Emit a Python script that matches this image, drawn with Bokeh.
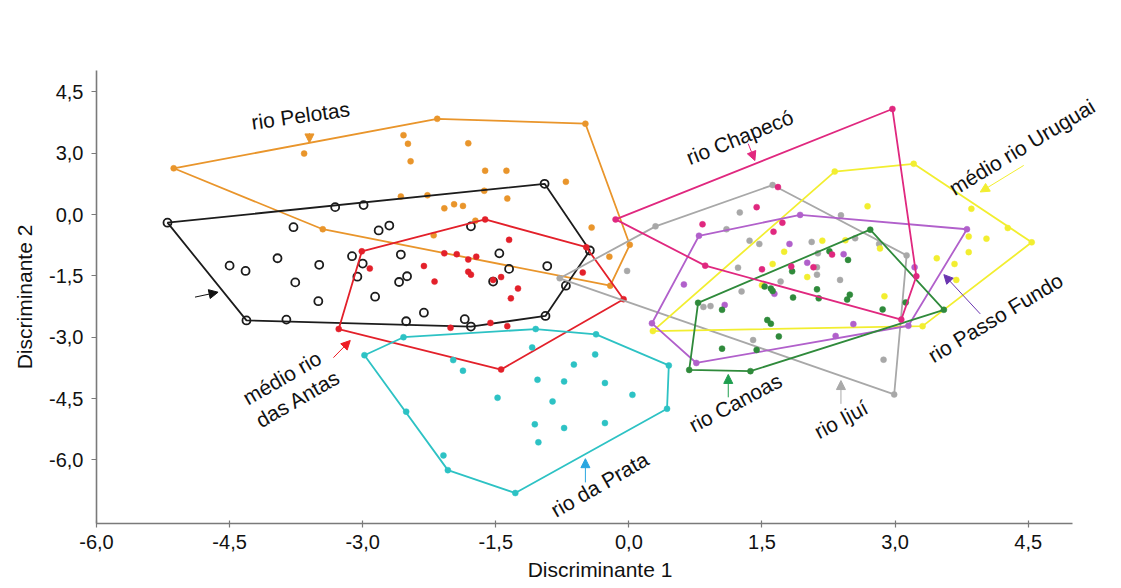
from bokeh.plotting import figure
from bokeh.models import Range1d, FixedTicker, Arrow, NormalHead, Label
from bokeh.embed import file_html
from bokeh.resources import INLINE
import math

# ---------------- data (Discriminante 1 = x, Discriminante 2 = y) ----------------
x_ticks = [-6.0, -4.5, -3.0, -1.5, 0.0, 1.5, 3.0, 4.5]
x_tick_labels = ["-6,0", "-4,5", "-3,0", "-1,5", "0,0", "1,5", "3,0", "4,5"]
y_ticks = [3.0, 1.5, 0.0, -1.5, -3.0, -4.5, -6.0]
y_tick_labels = ["4,5", "3,0", "0,0", "-1,5", "-3,0", "-4,5", "-6,0"]

# rio Pelotas (orange)
pelotas_hull_x = [-5.13, -2.16, -0.49, 0.01, -0.21, -3.45]
pelotas_hull_y = [1.13, 2.34, 2.22, -0.74, -1.74, -0.36]
pelotas_x = [-3.66, -2.54, -2.49, -2.46, -1.81, -2.57, -2.27, -2.08, -1.97, -1.87,
             -2.20, -1.73, -1.62, -1.38, -0.71, -1.63, -1.37, -0.42, -0.22]
pelotas_y = [1.49, 1.94, 1.73, 1.30, 1.74, 0.44, 0.47, 0.15, 0.25, 0.21,
             -0.51, -0.15, 1.07, 1.07, 0.80, 0.58, 0.39, -0.32, -1.03]

# unlabelled group (black open circles)
black_hull_x = [-5.20, -0.95, -0.44, -0.71, -0.94, -1.78, -4.31]
black_hull_y = [-0.20, 0.75, -0.88, -1.74, -2.48, -2.74, -2.59]
black_x = [-3.31, -2.99, -3.78, -2.82, -2.70, -1.78, -4.50, -4.32, -3.96, -3.49,
           -3.76, -3.50, -3.12, -3.00, -3.06, -2.57, -2.59, -2.50, -2.86, -2.31,
           -3.86, -2.51, -1.85, -1.46, -1.35, -0.92, -1.53]
black_y = [0.18, 0.23, -0.31, -0.39, -0.27, -0.29, -1.25, -1.38, -1.07, -1.23,
           -1.66, -2.12, -1.02, -1.20, -1.52, -0.98, -1.65, -1.51, -2.01, -2.40,
           -2.57, -2.61, -2.56, -0.95, -1.33, -1.26, -1.64]

# médio rio das Antas (red)
antas_hull_x = [-3.01, -1.62, -0.48, -0.06, -1.44, -3.27]
antas_hull_y = [-0.90, -0.12, -0.80, -2.07, -3.79, -2.80]
antas_x = [-2.92, -2.31, -2.19, -2.08, -1.94, -1.81, -1.72, -1.81, -1.78, -2.01,
           -1.35, -1.53, -1.44, -1.25, -1.33, -0.52, -1.56, -1.37]
antas_y = [-1.32, -1.26, -1.64, -0.95, -0.97, -1.10, -1.03, -1.40, -1.47, -2.77,
           -0.62, -1.60, -1.53, -1.81, -2.05, -1.42, -2.65, -2.73]

# rio da Prata (cyan)
prata_hull_x = [-2.98, -2.54, -1.05, -0.37, 0.45, 0.43, -1.28, -2.04]
prata_hull_y = [-3.44, -3.00, -2.80, -2.93, -3.69, -4.75, -6.81, -6.25]
prata_x = [-2.51, -2.09, -1.98, -1.87, -1.09, -0.38, -0.62, -1.03, -0.73, -0.27,
           -1.48, -0.86, 0.04, -1.06, -0.73, -0.27, -1.02]
prata_y = [-4.82, -5.89, -3.56, -3.82, -3.25, -3.42, -3.67, -4.04, -4.08, -4.12,
           -4.48, -4.57, -4.41, -5.13, -5.22, -5.10, -5.57]

# rio Chapecó (magenta)
chapeco_hull_x = [-0.15, 2.97, 3.24, 3.07, 0.86]
chapeco_hull_y = [-0.12, 2.58, -1.51, -2.57, -1.25]
chapeco_x = [1.68, 1.44, 0.83, 1.73, 1.63, 1.50, 1.83, 2.08, 2.29]
chapeco_y = [0.67, 0.18, -0.24, -0.20, -0.42, -1.34, -1.27, -1.29, -0.98]

# rio Ijuí (gray)
ijui_hull_x = [-0.78, 0.30, 1.62, 3.13, 2.99]
ijui_hull_y = [-1.56, -0.29, 0.72, -1.00, -4.40]
ijui_x = [-0.02, 2.39, 1.25, 1.10, 1.36, 1.47, 2.06, 2.55, 2.82, 2.13,
          2.12, 2.12, 1.23, 1.71, 2.38, 1.27, 0.84, 0.92, 1.40, 2.87]
ijui_y = [-1.38, -0.02, 0.05, -0.36, -0.64, -0.72, -0.67, -0.58, -0.72, -0.95,
          -1.29, -1.47, -1.30, -1.64, -1.60, -1.88, -2.26, -2.24, -3.07, -3.55]

# rio Passo Fundo (purple)
passo_hull_x = [0.79, 1.93, 3.81, 3.15, 0.76, 0.26]
passo_hull_y = [-0.52, -0.01, -0.36, -2.72, -3.63, -2.66]
passo_x = [1.81, 2.01, 1.64, 1.08, 0.62, 2.42, 2.53, 2.33, 3.22]
passo_y = [-0.72, -1.18, -1.94, -2.21, -1.71, -0.97, -2.68, -2.97, -1.29]

# médio rio Uruguai (yellow)
uruguai_hull_x = [0.27, 2.32, 3.21, 4.54, 3.31]
uruguai_hull_y = [-2.85, 1.05, 1.24, -0.68, -2.73]
uruguai_x = [2.69, 2.18, 2.44, 2.83, 1.75, 1.62, 2.01, 1.50, 2.88, 3.86,
             4.27, 3.83, 4.03, 3.83, 3.47, 3.67, 3.69]
uruguai_y = [0.20, -0.64, -0.63, -0.83, -0.91, -1.21, -1.53, -1.73, -2.00, 0.14,
             -0.33, -0.54, -0.59, -0.92, -1.07, -1.21, -1.60]

# rio Canoas (green)
canoas_hull_x = [0.78, 2.72, 3.55, 1.37, 0.68]
canoas_hull_y = [-2.16, -0.37, -2.33, -3.83, -3.80]
canoas_x = [2.26, 2.47, 1.84, 1.53, 1.60, 1.62, 1.85, 2.14, 2.12, 2.49,
            2.46, 2.86, 1.05, 1.56, 1.60, 1.69, 1.05, 1.44, 3.12]
canoas_y = [-0.90, -1.11, -1.39, -1.76, -1.81, -1.87, -2.03, -2.05, -1.83, -1.96,
            -2.08, -2.32, -2.33, -2.58, -2.67, -2.98, -3.28, -3.31, -2.15]

# group labels and the arrows pointing at each hull
label_texts = ["rio Pelotas", "rio Chapecó", "médio rio Uruguai", "rio Passo Fundo",
               "rio Ijuí", "rio Canoas", "rio da Prata", "médio rio", "das Antas"]
label_x = [-3.70, 1.25, 4.43, 4.13, 2.39, 1.20, -0.33, -3.91, -3.73]
label_y = [2.42, 1.89, 1.65, -2.52, -5.01, -4.60, -6.60, -3.99, -4.50]
label_deg = [8, 22, 31, 31, 28, 28, 30, 30, 30]

arrow_x0 = [-3.60, 1.345, 4.45, 3.96, 2.39, 1.12, -0.49, -3.33, -4.89]
arrow_y0 = [1.99, 1.73, 1.20, -2.43, -4.63, -4.47, -6.55, -3.50, -2.02]
arrow_x1 = [-3.60, 1.42, 3.96, 3.55, 2.39, 1.12, -0.49, -3.14, -4.63]
arrow_y1 = [1.75, 1.32, 0.55, -1.47, -4.06, -3.91, -5.97, -3.08, -1.90]
arrow_colors = ["#E9952B", "#E2277F", "#F2EE30", "#6A35B0", "#A9A9A9",
                "#1E9E4E", "#2AA6E0", "#EE1C24", "#111111"]

x_title = "Discriminante 1"
y_title = "Discriminante 2"

# ---------------- figure ----------------
# plot area extends a little right of the axis end so the labels there are not cut
p = figure(width=1121, height=588, output_backend="svg", toolbar_location=None,
           x_range=Range1d(-6.0, 5.349), y_range=Range1d(-7.555, 3.521),
           min_border_left=96, min_border_right=18, min_border_top=70,
           min_border_bottom=65)
p.outline_line_color = None
p.grid.visible = False
p.background_fill_color = "white"
p.border_fill_color = "white"

FONT = "Liberation Sans"

p.xaxis.ticker = FixedTicker(ticks=x_ticks)
p.xaxis.major_label_overrides = {t: l for t, l in zip(x_ticks, x_tick_labels)}
p.xaxis.bounds = (-6.0, 5.0)
p.yaxis.ticker = FixedTicker(ticks=y_ticks)
p.yaxis.major_label_overrides = {t: l for t, l in zip(y_ticks, y_tick_labels)}
for ax in (p.xaxis[0], p.yaxis[0]):
    ax.axis_line_color = "#7a7a7a"
    ax.axis_line_width = 1.6
    ax.major_tick_line_color = "#7a7a7a"
    ax.major_tick_line_width = 1.2
    ax.minor_tick_line_color = None
    ax.major_label_text_font = FONT
    ax.major_label_text_font_size = "20px"
    ax.major_label_text_color = "#111111"
    ax.axis_label_text_font = FONT
    ax.axis_label_text_font_size = "21px"
    ax.axis_label_text_font_style = "normal"
    ax.axis_label_text_color = "#111111"

p.xaxis.axis_label = x_title
p.xaxis.major_tick_in = 3
p.xaxis.major_tick_out = 4
p.xaxis.major_label_standoff = 7
p.xaxis.axis_label_standoff = 6

p.yaxis.axis_label = y_title
p.yaxis.major_tick_in = 0
p.yaxis.major_tick_out = 5
p.yaxis.major_label_standoff = 8
p.yaxis.axis_label_standoff = 10

groups = [
    (pelotas_hull_x, pelotas_hull_y, pelotas_x, pelotas_y, "#E9952B", False),
    (black_hull_x, black_hull_y, black_x, black_y, "#1c1c1c", True),
    (antas_hull_x, antas_hull_y, antas_x, antas_y, "#E3202A", False),
    (prata_hull_x, prata_hull_y, prata_x, prata_y, "#2DC2C4", False),
    (ijui_hull_x, ijui_hull_y, ijui_x, ijui_y, "#A8A8A8", False),
    (uruguai_hull_x, uruguai_hull_y, uruguai_x, uruguai_y, "#F2EE30", False),
    (passo_hull_x, passo_hull_y, passo_x, passo_y, "#B160CB", False),
    (canoas_hull_x, canoas_hull_y, canoas_x, canoas_y, "#2F8A3B", False),
    (chapeco_hull_x, chapeco_hull_y, chapeco_x, chapeco_y, "#E0287F", False),
]

for hx, hy, px, py, col, hollow in groups:
    p.patch(hx, hy, fill_color=None, line_color=col, line_width=1.8)
    allx = px + hx
    ally = py + hy
    if hollow:
        p.scatter(allx, ally, size=8, marker="circle", fill_color=None,
                  line_color=col, line_width=1.8)
    else:
        p.scatter(allx, ally, size=6, marker="circle", fill_color=col,
                  line_color=col, line_width=0.5)

for xs, ys, xe, ye, col in zip(arrow_x0, arrow_y0, arrow_x1, arrow_y1, arrow_colors):
    p.add_layout(Arrow(x_start=xs, y_start=ys, x_end=xe, y_end=ye,
                       line_color=col, line_width=1,
                       end=NormalHead(size=9, fill_color=col, line_color=col)))

for t, lx, ly, d in zip(label_texts, label_x, label_y, label_deg):
    p.add_layout(Label(x=lx, y=ly, text=t, angle=math.radians(d),
                       text_font=FONT, text_font_size="21px", text_color="#111111",
                       text_align="center", text_baseline="middle"))

open("out.html", "w").write(file_html(p, INLINE))
